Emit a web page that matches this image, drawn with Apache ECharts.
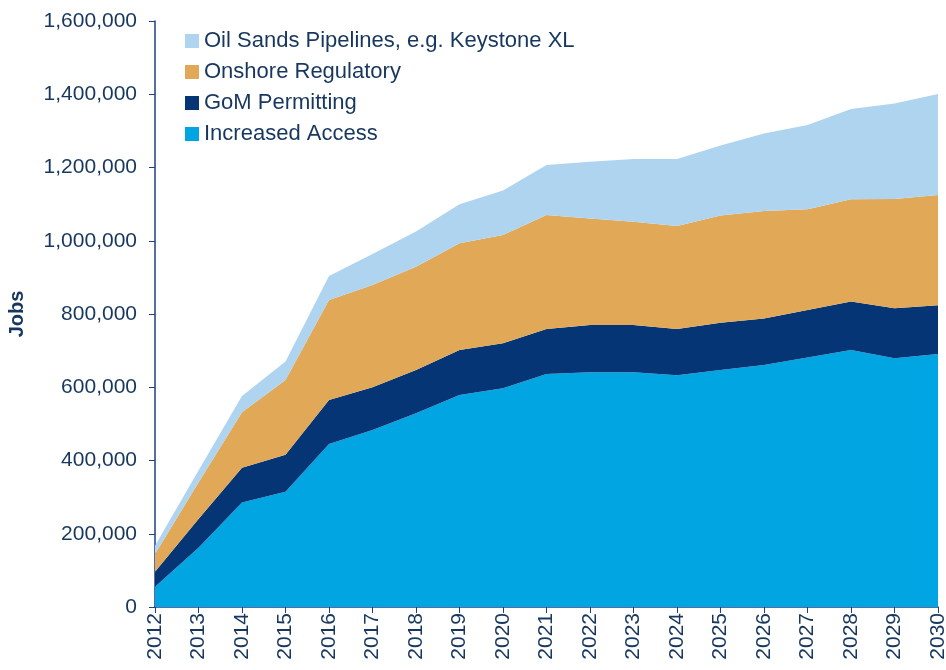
<!DOCTYPE html>
<html>
<head>
<meta charset="utf-8">
<script src="https://cdn.jsdelivr.net/npm/echarts@6/dist/echarts.min.js"></script>
<style>html,body{margin:0;padding:0;background:#fff}#c{width:946px;height:670px}</style>
</head>
<body>
<div id="c"></div>
<script>
var years = ['2012','2013','2014','2015','2016','2017','2018','2019','2020','2021','2022','2023','2024','2025','2026','2027','2028','2029','2030'];
var increasedAccess = [55000,162000,285000,315000,445000,483000,529000,579000,597000,636000,641000,641000,633000,647000,661000,681000,702000,679000,691000];
var gomPermitting = [41000,78000,95000,101000,120000,117000,118000,123000,123000,123000,129000,129000,126000,129000,127000,130000,132000,137000,133000];
var onshoreRegulatory = [49000,100000,152000,204000,273000,279000,282000,291000,296000,311000,291000,282000,281000,293000,293000,275000,279000,298000,301000];
var oilSandsPipelines = [22000,33000,44000,50000,66000,85000,96000,107000,121000,137000,155000,171000,183000,191000,212000,230000,247000,261000,276000];
var seriesNames = ['Increased Access','GoM Permitting','Onshore Regulatory','Oil Sands Pipelines, e.g. Keystone XL'];
var colors = ['#00A5E1','#063576','#E1A857','#AED4F0'];
var textColor = '#17375E';
var axisColor = '#1F3F7F';
var fontFam = 'Liberation Sans, Arial, sans-serif';

var dataSets = [increasedAccess, gomPermitting, onshoreRegulatory, oilSandsPipelines];
var series = dataSets.map(function(d, i){
  return {
    name: seriesNames[i], type: 'line', stack: 'total', data: d,
    symbol: 'none', lineStyle: {width: 0}, areaStyle: {color: colors[i], opacity: 1},
    itemStyle: {color: colors[i]}, silent: true
  };
});

var chart = echarts.init(document.getElementById('c'), null, {renderer: 'canvas'});
chart.setOption({
  animation: false,
  backgroundColor: '#fff',
  grid: {left: 155, right: 8, top: 21, bottom: 63, containLabel: false, outerBoundsMode: 'none'},
  legend: {
    orient: 'vertical', left: 185, top: 30, padding: 0, itemWidth: 14, itemHeight: 14, itemGap: 9,
    icon: 'rect',
    data: [seriesNames[3], seriesNames[2], seriesNames[1], seriesNames[0]],
    textStyle: {color: textColor, fontSize: 22, fontFamily: fontFam}
  },
  xAxis: {
    type: 'category', data: years, boundaryGap: false,
    axisLine: {lineStyle: {color: axisColor, width: 1.5}},
    axisTick: {alignWithLabel: true, length: 6, lineStyle: {color: axisColor}},
    axisLabel: {rotate: 90, color: textColor, fontSize: 21, fontFamily: fontFam, margin: 6, interval: 0},
    splitLine: {show: false}
  },
  yAxis: {
    type: 'value', min: 0, max: 1600000, interval: 200000,
    name: 'Jobs', nameLocation: 'middle', nameRotate: 90, nameGap: 128,
    nameTextStyle: {color: textColor, fontSize: 20, fontWeight: 'bold', fontFamily: fontFam},
    axisLine: {show: true, lineStyle: {color: axisColor, width: 1.5}},
    axisTick: {show: true, length: 6, lineStyle: {color: axisColor}},
    axisLabel: {color: textColor, fontSize: 21, fontFamily: fontFam, margin: 18,
      formatter: function(v){ return v.toString().replace(/\B(?=(\d{3})+(?!\d))/g, ','); }},
    splitLine: {show: false}
  },
  series: series
});
</script>
</body>
</html>
